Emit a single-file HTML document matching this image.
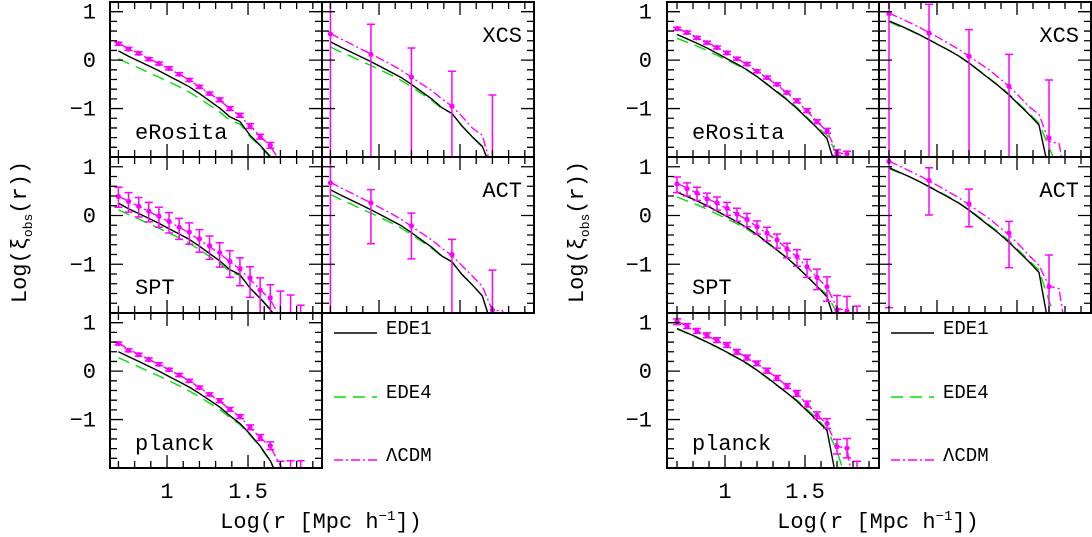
<!DOCTYPE html>
<html><head><meta charset="utf-8">
<style>
html,body{margin:0;padding:0;background:#fff;}
svg{display:block;font-family:"Liberation Mono","DejaVu Sans Mono",monospace;}
</style></head>
<body>
<svg id="chart" width="1092" height="537" viewBox="0 0 1092 537" xmlns="http://www.w3.org/2000/svg"></svg>
<script>
// Shared x grids
const xFine = [0.7,0.7625,0.825,0.8875,0.95,1.0125,1.075,1.1375,1.2,1.2625,1.325,1.3875,1.45,1.5125,1.575,1.6375,1.7,1.7625,1.825];
const xSparse = [0.70,0.95,1.20,1.45,1.70];
const xTicksMajor = [1,1.5];
const xTickLabels = ["1","1.5"];
const yTicksMajor = [1,0,-1];
const yTickLabels = ["1","0","\u22121"];

// ---- Figure A (left) ----
const A_eRosita_y = [0.34,0.23,0.14,0.02,-0.07,-0.17,-0.29,-0.41,-0.55,-0.69,-0.82,-1.00,-1.14,-1.36,-1.58,-1.76,-2.1,-2.5,-2.8];
const A_eRosita_err = [0.03,0.03,0.03,0.03,0.03,0.03,0.03,0.03,0.03,0.03,0.04,0.04,0.04,0.05,0.05,0.06,0.08,0.1,0.1];
const A_eRosita_lcdm = [0.35,0.24,0.14,0.03,-0.07,-0.18,-0.29,-0.41,-0.55,-0.69,-0.83,-1.00,-1.15,-1.36,-1.57,-1.78,-2.1,-2.5,-2.8];
const A_eRosita_ede1 = [0.19,0.08,-0.02,-0.12,-0.22,-0.33,-0.44,-0.55,-0.69,-0.84,-0.99,-1.17,-1.27,-1.55,-1.76,-1.99,-2.2,-2.4,-2.8];
const A_eRosita_ede4 = [0.03,-0.07,-0.16,-0.26,-0.35,-0.45,-0.55,-0.66,-0.79,-0.93,-1.07,-1.24,-1.32,-1.58,-1.78,-2.01,-2.2,-2.4,-2.8];

const A_XCS_y = [0.54,0.12,-0.35,-0.95,-2.1];
const A_XCS_errHi = [1.0,0.62,0.60,0.72,1.38];
const A_XCS_errLo = [3,3,3,3,3];
const A_XCS_lcdm = [0.55,0.44,0.34,0.23,0.13,0.02,-0.09,-0.21,-0.35,-0.49,-0.63,-0.80,-0.95,-1.16,-1.40,-1.55,-2.3,-2.5,-2.8];
const A_XCS_ede1 = [0.38,0.27,0.17,0.07,-0.03,-0.14,-0.25,-0.36,-0.50,-0.65,-0.80,-0.98,-1.10,-1.36,-1.58,-1.78,-2.3,-2.5,-2.8];
const A_XCS_ede4 = [0.27,0.17,0.08,-0.02,-0.11,-0.21,-0.31,-0.42,-0.55,-0.69,-0.83,-1.00,-1.10,-1.36,-1.58,-1.80,-2.3,-2.5,-2.8];

const A_SPT_y = [0.39,0.29,0.19,0.09,-0.01,-0.12,-0.24,-0.34,-0.48,-0.62,-0.76,-0.94,-1.09,-1.28,-1.53,-1.69,-2.1,-2.2,-2.4];
const A_SPT_errHi = [0.19,0.18,0.18,0.18,0.18,0.18,0.18,0.19,0.19,0.20,0.20,0.22,0.22,0.23,0.25,0.27,0.55,0.57,0.56];
const A_SPT_errLo = [0.22,0.22,0.22,0.22,0.23,0.24,0.25,0.25,0.27,0.28,0.30,0.33,0.35,0.40,0.5,0.6,1,1,1];
const A_SPT_lcdm = [0.40,0.29,0.19,0.08,-0.02,-0.13,-0.24,-0.36,-0.50,-0.64,-0.78,-0.95,-1.10,-1.31,-1.52,-1.73,-2.1,-2.5,-2.8];
const A_SPT_ede1 = [0.25,0.14,0.04,-0.06,-0.16,-0.27,-0.38,-0.49,-0.63,-0.78,-0.93,-1.11,-1.21,-1.49,-1.70,-1.93,-2.2,-2.4,-2.8];
const A_SPT_ede4 = [0.12,0.02,-0.07,-0.17,-0.26,-0.36,-0.46,-0.57,-0.70,-0.84,-0.98,-1.15,-1.23,-1.49,-1.69,-1.92,-2.2,-2.4,-2.8];

const A_ACT_y = [0.67,0.26,-0.21,-0.80,-1.94];
const A_ACT_errHi = [1,0.27,0.26,0.31,0.82];
const A_ACT_errLo = [3,0.84,0.68,3,3];
const A_ACT_lcdm = [0.68,0.57,0.47,0.36,0.26,0.15,0.04,-0.08,-0.22,-0.36,-0.50,-0.67,-0.82,-1.03,-1.24,-1.45,-1.95,-1.95,-2.8];
const A_ACT_ede1 = [0.53,0.42,0.32,0.22,0.12,0.01,-0.10,-0.21,-0.35,-0.50,-0.65,-0.83,-0.95,-1.21,-1.42,-1.65,-2.3,-2.5,-2.8];
const A_ACT_ede4 = [0.43,0.33,0.24,0.14,0.05,-0.05,-0.15,-0.26,-0.39,-0.53,-0.67,-0.84,-0.95,-1.21,-1.42,-1.65,-2.3,-2.5,-2.8];

const A_planck_y = [0.57,0.43,0.34,0.24,0.14,0.03,-0.08,-0.20,-0.34,-0.48,-0.61,-0.79,-0.94,-1.16,-1.37,-1.54,-2.05,-2.1,-2.2];
const A_planck_err = [0.03,0.03,0.03,0.03,0.03,0.03,0.03,0.03,0.03,0.03,0.04,0.04,0.04,0.05,0.06,0.08,0.19,0.25,0.35];
const A_planck_lcdm = [0.58,0.45,0.35,0.24,0.14,0.03,-0.08,-0.20,-0.34,-0.48,-0.62,-0.79,-0.94,-1.16,-1.37,-1.56,-1.95,-2.3,-2.8];
const A_planck_ede1 = [0.40,0.30,0.20,0.10,0.0,-0.11,-0.22,-0.33,-0.46,-0.60,-0.74,-0.92,-1.08,-1.30,-1.55,-1.85,-2.3,-2.5,-2.8];
const A_planck_ede4 = [0.28,0.18,0.09,-0.01,-0.10,-0.20,-0.30,-0.41,-0.53,-0.66,-0.79,-0.96,-1.10,-1.32,-1.56,-1.87,-2.3,-2.5,-2.8];

// ---- Figure B (right) ----
const B_eRosita_y = [0.65,0.57,0.46,0.36,0.26,0.15,0.03,-0.08,-0.23,-0.36,-0.50,-0.67,-0.84,-1.04,-1.27,-1.46,-1.91,-1.94,-2.2];
const B_eRosita_err = [0.03,0.03,0.03,0.03,0.03,0.03,0.03,0.03,0.03,0.03,0.03,0.03,0.04,0.04,0.04,0.05,0.06,0.06,0.06];
const B_eRosita_lcdm = [0.66,0.57,0.47,0.37,0.26,0.15,0.03,-0.09,-0.23,-0.37,-0.51,-0.68,-0.85,-1.05,-1.27,-1.47,-1.90,-1.95,-2.8];
const B_eRosita_ede1 = [0.53,0.44,0.35,0.25,0.14,0.03,-0.08,-0.20,-0.34,-0.50,-0.66,-0.82,-1.00,-1.20,-1.40,-1.62,-2.3,-2.5,-2.8];
const B_eRosita_ede4 = [0.45,0.37,0.29,0.20,0.10,0.0,-0.10,-0.21,-0.34,-0.49,-0.64,-0.80,-0.98,-1.18,-1.38,-1.55,-1.95,-2.3,-2.8];

const B_XCS_y = [0.96,0.56,0.08,-0.54,-1.61];
const B_XCS_errHi = [1,0.59,0.55,0.66,1.20];
const B_XCS_errLo = [3,3,3,3,3];
const B_XCS_lcdm = [0.97,0.88,0.78,0.68,0.57,0.46,0.34,0.22,0.08,-0.06,-0.20,-0.37,-0.54,-0.74,-0.96,-1.12,-1.68,-1.72,-2.8];
const B_XCS_ede1 = [0.81,0.72,0.63,0.53,0.42,0.31,0.20,0.08,-0.06,-0.22,-0.38,-0.54,-0.72,-0.92,-1.12,-1.34,-2.3,-2.5,-2.8];
const B_XCS_ede4 = [0.79,0.70,0.62,0.52,0.42,0.31,0.20,0.08,-0.06,-0.21,-0.37,-0.53,-0.70,-0.90,-1.10,-1.30,-1.80,-2.3,-2.8];

const B_SPT_y = [0.65,0.55,0.46,0.34,0.26,0.15,0.03,-0.08,-0.23,-0.36,-0.50,-0.69,-0.84,-1.05,-1.27,-1.46,-1.94,-1.96,-2.3];
const B_SPT_errHi = [0.14,0.12,0.12,0.12,0.12,0.12,0.12,0.12,0.12,0.12,0.12,0.12,0.14,0.15,0.17,0.2,0.3,0.3,0.44];
const B_SPT_errLo = [0.18,0.15,0.15,0.15,0.15,0.15,0.15,0.15,0.15,0.16,0.17,0.18,0.2,0.22,0.25,0.3,0.5,0.5,0.5];
const B_SPT_lcdm = [0.66,0.56,0.46,0.35,0.25,0.14,0.03,-0.09,-0.23,-0.37,-0.51,-0.68,-0.85,-1.05,-1.27,-1.47,-1.90,-1.95,-2.8];
const B_SPT_ede1 = [0.48,0.39,0.30,0.20,0.09,-0.02,-0.13,-0.25,-0.39,-0.55,-0.71,-0.87,-1.05,-1.25,-1.45,-1.67,-2.3,-2.5,-2.8];
const B_SPT_ede4 = [0.38,0.30,0.22,0.13,0.03,-0.07,-0.17,-0.28,-0.41,-0.56,-0.71,-0.87,-1.05,-1.25,-1.45,-1.62,-2.0,-2.3,-2.8];

const B_ACT_y = [1.11,0.72,0.24,-0.36,-1.46];
const B_ACT_errHi = [1,0.26,0.30,0.24,0.65];
const B_ACT_errLo = [3,0.71,0.47,0.71,3];
const B_ACT_lcdm = [1.11,1.02,0.92,0.82,0.71,0.60,0.48,0.36,0.22,0.08,-0.06,-0.23,-0.40,-0.60,-0.82,-1.02,-1.45,-1.5,-2.8];
const B_ACT_ede1 = [0.98,0.89,0.80,0.70,0.59,0.48,0.37,0.25,0.11,-0.05,-0.21,-0.37,-0.55,-0.75,-0.95,-1.17,-2.3,-2.5,-2.8];
const B_ACT_ede4 = [0.96,0.88,0.80,0.70,0.60,0.49,0.38,0.26,0.12,-0.03,-0.19,-0.35,-0.52,-0.72,-0.92,-1.12,-1.75,-2.3,-2.8];

const B_planck_y = [1.02,0.93,0.83,0.74,0.64,0.54,0.40,0.28,0.16,0.01,-0.14,-0.31,-0.46,-0.68,-0.91,-1.08,-1.56,-1.59,-2.2];
const B_planck_err = [0.06,0.05,0.05,0.05,0.05,0.05,0.05,0.05,0.05,0.05,0.05,0.05,0.06,0.06,0.07,0.1,0.15,0.2,0.34];
const B_planck_lcdm = [1.03,0.93,0.83,0.73,0.63,0.52,0.40,0.28,0.15,0.01,-0.14,-0.31,-0.47,-0.68,-0.90,-1.10,-1.55,-1.6,-2.8];
const B_planck_ede1 = [0.88,0.79,0.70,0.60,0.50,0.39,0.28,0.16,0.02,-0.13,-0.29,-0.45,-0.62,-0.82,-1.02,-1.22,-2.3,-2.5,-2.8];
const B_planck_ede4 = [0.87,0.78,0.69,0.59,0.49,0.38,0.27,0.15,0.01,-0.14,-0.30,-0.45,-0.60,-0.79,-0.98,-1.20,-1.65,-2.3,-2.8];

const NS = "http://www.w3.org/2000/svg";
const svg = document.getElementById("chart");
function mk(tag, attrs, parent){
  const e = document.createElementNS(NS, tag);
  for (const k in attrs) e.setAttribute(k, attrs[k]);
  (parent||svg).appendChild(e);
  return e;
}
const YMIN=-2, YMAX=1.2, COLW=212, ROWT=[2,157,313], ROWH=[155,156,155];
const MAG="#ff00ff", GRN="#00e000";

const figs = [
  {key:"A", left:110, xmin:0.648, xs:162, ylabX:96, ytitleX:18},
  {key:"B", left:667, xmin:0.6375, xs:160, ylabX:652, ytitleX:575}
];
const panelsA = [
  {name:"eRosita", col:0,row:0, x:xFine, y:A_eRosita_y, hi:A_eRosita_err, lo:A_eRosita_err, l:A_eRosita_lcdm, e1:A_eRosita_ede1, e4:A_eRosita_ede4, lab:"left"},
  {name:"XCS", col:1,row:0, x:xSparse, y:A_XCS_y, hi:A_XCS_errHi, lo:A_XCS_errLo, l:A_XCS_lcdm, e1:A_XCS_ede1, e4:A_XCS_ede4, lab:"right"},
  {name:"SPT", col:0,row:1, x:xFine, y:A_SPT_y, hi:A_SPT_errHi, lo:A_SPT_errLo, l:A_SPT_lcdm, e1:A_SPT_ede1, e4:A_SPT_ede4, lab:"left"},
  {name:"ACT", col:1,row:1, x:xSparse, y:A_ACT_y, hi:A_ACT_errHi, lo:A_ACT_errLo, l:A_ACT_lcdm, e1:A_ACT_ede1, e4:A_ACT_ede4, lab:"right"},
  {name:"planck", col:0,row:2, x:xFine, y:A_planck_y, hi:A_planck_err, lo:A_planck_err, l:A_planck_lcdm, e1:A_planck_ede1, e4:A_planck_ede4, lab:"left"}
];
const panelsB = [
  {name:"eRosita", col:0,row:0, x:xFine, y:B_eRosita_y, hi:B_eRosita_err, lo:B_eRosita_err, l:B_eRosita_lcdm, e1:B_eRosita_ede1, e4:B_eRosita_ede4, lab:"left"},
  {name:"XCS", col:1,row:0, x:xSparse, y:B_XCS_y, hi:B_XCS_errHi, lo:B_XCS_errLo, l:B_XCS_lcdm, e1:B_XCS_ede1, e4:B_XCS_ede4, lab:"right"},
  {name:"SPT", col:0,row:1, x:xFine, y:B_SPT_y, hi:B_SPT_errHi, lo:B_SPT_errLo, l:B_SPT_lcdm, e1:B_SPT_ede1, e4:B_SPT_ede4, lab:"left"},
  {name:"ACT", col:1,row:1, x:xSparse, y:B_ACT_y, hi:B_ACT_errHi, lo:B_ACT_errLo, l:B_ACT_lcdm, e1:B_ACT_ede1, e4:B_ACT_ede4, lab:"right"},
  {name:"planck", col:0,row:2, x:xFine, y:B_planck_y, hi:B_planck_err, lo:B_planck_err, l:B_planck_lcdm, e1:B_planck_ede1, e4:B_planck_ede4, lab:"left"}
];
const defs = mk("defs",{});
let clipId=0;

function drawFig(f, panels){
  const fig = mk("g",{});
  
  
  panels.forEach(p=>{
    const L = f.left + p.col*COLW, T = ROWT[p.row], H = ROWH[p.row];
    const sx = v => L + (v - f.xmin)*f.xs;
    const sy = v => T + (YMAX - v)*H/(YMAX-YMIN);
    const g = mk("g",{},fig);
    
    
    const cid = "clip"+(clipId++);
    const cp = mk("clipPath",{id:cid},defs);
    mk("rect",{x:L,y:T,width:COLW,height:H},cp);
    const inner = mk("g",{"clip-path":"url(#"+cid+")"},g);
    const lineDef = [
      {arr:p.e4, col:GRN, dash:"12,7", nm:"ede4-line"},
      {arr:p.e1, col:"#000", dash:"", nm:"ede1-line"},
      {arr:p.l, col:MAG, dash:"9,3,2,3", nm:"lcdm-line"}
    ];
    lineDef.forEach(ld=>{
      const d = ld.arr.map((v,i)=>(i?"L":"M")+sx(xFine[i]).toFixed(1)+","+sy(v).toFixed(1)).join("");
      const pth = mk("path",{d:d,fill:"none",stroke:ld.col,"stroke-width":1.4,"stroke-dasharray":ld.dash},inner);
      
      
    });
    p.y.forEach((v,i)=>{
      const x = sx(p.x[i]);
      const yt = sy(v + p.hi[i]), yb = sy(v - p.lo[i]);
      const eb = mk("path",{d:"M"+x+","+yt+"L"+x+","+yb+"M"+(x-4)+","+yt+"L"+(x+4)+","+yt+"M"+(x-4)+","+yb+"L"+(x+4)+","+yb,stroke:MAG,"stroke-width":1.5,fill:"none"},inner);
      
      
      const c = mk("circle",{cx:x,cy:sy(v),r:2.6,fill:MAG},inner);
      
      
    });
    let td = "";
    for(let k=7;k<=19;k++){
      const xv = k/10, X = sx(xv);
      if (X<=L+1||X>=L+COLW-1) continue;
      const len = (k%5===0)?13:7;
      td += "M"+X+","+T+"v"+len+"M"+X+","+(T+H)+"v"+(-len);
    }
    for(let k=-10;k<=6;k++){
      const yv = k/5, Y = sy(yv);
      if (Y<=T+1||Y>=T+H-1) continue;
      const len = (k%5===0)?13:7;
      td += "M"+L+","+Y+"h"+len+"M"+(L+COLW)+","+Y+"h"+(-len);
    }
    const tk = mk("path",{d:td,stroke:"#000","stroke-width":1.3,fill:"none"},g);
    
    
    const fr = mk("rect",{x:L,y:T,width:COLW,height:H,fill:"none",stroke:"#000","stroke-width":2},g);
    
    
    const lt = p.lab==="left" ? mk("text",{x:L+25,y:T+137,"font-size":22},g) : mk("text",{x:L+COLW-12,y:T+40,"font-size":22,"text-anchor":"end"},g);
    lt.textContent = p.name;
    
    
    if (p.col===0){
      yTicksMajor.forEach((v,i)=>{
        const t = mk("text",{x:f.ylabX,y:sy(v)+7,"font-size":22,"text-anchor":"end"},g);
        t.textContent = yTickLabels[i];
        
        
      });
    }
    if (p.row===2){
      xTicksMajor.forEach((v,i)=>{
        const t = mk("text",{x:sx(v),y:T+H+30,"font-size":22,"text-anchor":"middle"},g);
        t.textContent = xTickLabels[i];
        
        
      });
    }
  });
  const LX = f.left + COLW + 12;
  const leg = [
    {t:"EDE1", c:"#000", d:"", y:327},
    {t:"EDE4", c:GRN, d:"12,7", y:391},
    {t:"\u039BCDM", c:MAG, d:"9,3,2,3", y:454}
  ];
  leg.forEach(e=>{
    const lg = mk("g",{},fig);
    
    
    mk("line",{x1:LX,x2:LX+43,y1:e.y+6,y2:e.y+6,stroke:e.c,"stroke-width":1.4,"stroke-dasharray":e.d},lg);
    const t = mk("text",{x:LX+52,y:e.y+7,"font-size":19},lg);
    t.textContent = e.t;
  });
  const xt = mk("text",{x:f.left+COLW-1,y:528,"font-size":22,"text-anchor":"middle"},fig);
  xt.innerHTML = 'Log(r [Mpc h<tspan font-size="14" dy="-8">\u22121</tspan><tspan dy="8">])</tspan>';
  
  
  const yt = mk("text",{x:0,y:0,"font-size":22,"text-anchor":"middle",transform:"translate("+(f.ytitleX+8)+",232) rotate(-90)"},fig);
  yt.innerHTML = 'Log(\u03BE<tspan font-size="13" dy="6">obs</tspan><tspan dy="-6">(r))</tspan>';
  
  
}
drawFig(figs[0], panelsA);
drawFig(figs[1], panelsB);
</script>
</body></html>
